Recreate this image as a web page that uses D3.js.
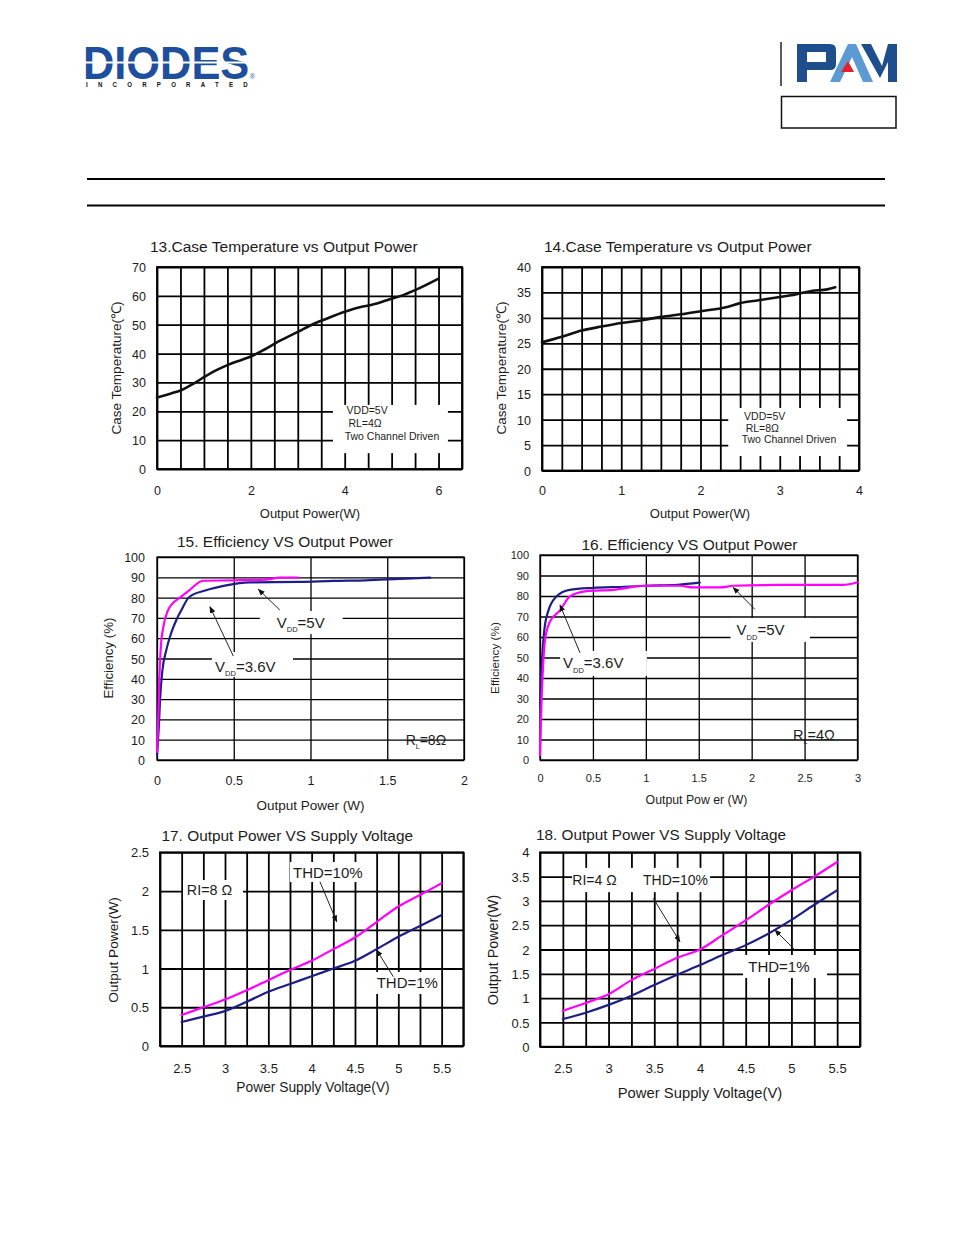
<!DOCTYPE html>
<html><head><meta charset="utf-8">
<script src="https://cdn.jsdelivr.net/npm/d3@7"></script>
<style>html,body{margin:0;padding:0;background:#fff;}svg{display:block;}</style>
</head><body>
<script>
// ---------- DATA ----------
// Chart 13: Case temperature vs output power (RL=4Ω)
const c13Power = [0, 0.3, 0.5, 0.8, 1.0, 1.3, 1.5, 1.8, 2.0, 2.3, 2.6, 3.0, 3.3, 3.6, 4.0, 4.3, 4.6, 4.9, 5.2, 5.5, 6.0];
const c13Temp  = [24.8, 26.2, 27.2, 29.8, 31.8, 34.5, 36, 37.8, 39, 41.5, 44.3, 47.5, 50, 52, 54.5, 56, 57, 58.5, 60, 62, 66];
const c13XTicks = [0, 2, 4, 6];
const c13YTicks = [0, 10, 20, 30, 40, 50, 60, 70];

// Chart 14: Case temperature vs output power (RL=8Ω)
const c14Power = [0, 0.25, 0.5, 0.75, 1.0, 1.25, 1.5, 1.75, 2.0, 2.35, 2.5, 2.75, 3.0, 3.2, 3.4, 3.6, 3.7];
const c14Temp  = [25.2, 26.3, 27.5, 28.3, 29, 29.5, 30.2, 30.7, 31.3, 32.2, 32.9, 33.5, 34.1, 34.6, 35.3, 35.6, 36];
const c14XTicks = [0, 1, 2, 3, 4];
const c14YTicks = [0, 5, 10, 15, 20, 25, 30, 35, 40];

// Chart 15: Efficiency vs output power (RL=8Ω)
const c15MagPower = [0, 0.008, 0.015, 0.025, 0.04, 0.07, 0.1, 0.15, 0.21, 0.3, 0.5, 0.71, 0.8, 0.92];
const c15MagEff   = [4, 20, 40, 56, 65, 73.5, 77, 80, 83.6, 88.3, 88.5, 88.9, 89.8, 89.9];
const c15NavyPower = [0, 0.005, 0.013, 0.02, 0.035, 0.06, 0.09, 0.126, 0.16, 0.21, 0.32, 0.45, 0.6, 0.93, 1.15, 1.36, 1.58, 1.78];
const c15NavyEff   = [2.5, 8, 18, 30, 44, 54, 62, 69, 74, 80.3, 83.6, 86, 87.5, 87.7, 88.2, 88.5, 89.2, 89.8];
const c15XTicks = [0, 0.5, 1, 1.5, 2];
const c15YTicks = [0, 10, 20, 30, 40, 50, 60, 70, 80, 90, 100];

// Chart 16: Efficiency vs output power (RL=4Ω)
const c16NavyPower = [0.003, 0.01, 0.02, 0.04, 0.08, 0.16, 0.28, 0.5, 0.8, 1.0, 1.3, 1.51];
const c16NavyEff   = [26, 40, 50, 63, 73, 80, 83, 84, 84.5, 85, 85.5, 86.5];
const c16MagPower = [0, 0.016, 0.03, 0.047, 0.094, 0.19, 0.28, 0.44, 0.69, 1.0, 1.32, 1.45, 1.7, 1.83, 2.27, 2.86, 3.0];
const c16MagEff   = [2.4, 31, 47, 58.5, 67.5, 73, 79.7, 82.4, 83, 85, 85, 84.2, 84.2, 85, 85.4, 85.4, 86.7];
const c16XTicks = [0, 0.5, 1, 1.5, 2, 2.5, 3];
const c16YTicks = [0, 10, 20, 30, 40, 50, 60, 70, 80, 90, 100];

// Chart 17: Output power vs supply voltage (RL=8Ω)
const c17Volt = [2.5, 2.75, 3, 3.25, 3.5, 3.75, 4, 4.25, 4.5, 4.75, 5, 5.25, 5.5];
const c17Thd10 = [0.4, 0.5, 0.6, 0.72, 0.85, 0.98, 1.1, 1.25, 1.4, 1.6, 1.8, 1.95, 2.1];
const c17Thd1  = [0.31, 0.38, 0.45, 0.57, 0.7, 0.8, 0.9, 1.0, 1.1, 1.25, 1.41, 1.55, 1.69];
const c17XTicks = [2.5, 3, 3.5, 4, 4.5, 5, 5.5];
const c17YTicks = [0, 0.5, 1, 1.5, 2, 2.5];

// Chart 18: Output power vs supply voltage (RL=4Ω)
const c18Volt = [2.5, 2.75, 3, 3.25, 3.5, 3.75, 4, 4.25, 4.5, 4.75, 5, 5.25, 5.5];
const c18Thd10 = [0.74, 0.9, 1.08, 1.37, 1.6, 1.83, 2.0, 2.3, 2.6, 2.92, 3.22, 3.5, 3.8];
const c18Thd1  = [0.57, 0.7, 0.86, 1.05, 1.27, 1.48, 1.68, 1.89, 2.09, 2.33, 2.61, 2.92, 3.22];
const c18XTicks = [2.5, 3, 3.5, 4, 4.5, 5, 5.5];
const c18YTicks = [0, 0.5, 1, 1.5, 2, 2.5, 3, 3.5, 4];

// ---------- DRAWING ----------
const FONT = "'Liberation Sans', Arial, sans-serif";
const NAVY = "#1e1e86", MAG = "#ff00ff", TXT = "#1c1c1c";
const svg = d3.select("body").append("svg").attr("width", 954).attr("height", 1235)
  .style("font-family", FONT);
svg.append("rect").attr("width", 954).attr("height", 1235).attr("fill", "#fff");

const defs = svg.append("defs");
defs.append("marker").attr("id", "ah").attr("viewBox", "0 0 10 10").attr("refX", 9).attr("refY", 5)
  .attr("markerWidth", 7).attr("markerHeight", 7).attr("orient", "auto-start-reverse")
  .attr("markerUnits", "userSpaceOnUse")
  .append("path").attr("d", "M0,1 L10,5 L0,9 Z").attr("fill", "#111");

// ---- header ----
const hdr = svg.append("g");
const sx = 0.943;
const logo = hdr.append("text").attr("transform", `translate(83,79) scale(${sx},1)`)
  .attr("font-weight", "bold").attr("fill", "#1d4f9c");
logo.append("tspan").attr("x", 0).attr("y", 0).attr("font-size", 46).text("DIODES");
logo.append("tspan").attr("x", 177).attr("y", 0).attr("font-size", 7).attr("font-weight", "normal").text("®");
logo.append("tspan").attr("x", 3 / sx).attr("y", 8.5).attr("font-size", 6.5).attr("fill", "#111")
  .attr("letter-spacing", 10.85).text("INCORPORATED");
hdr.append("rect").attr("x", 83).attr("y", 61.5).attr("width", 166).attr("height", 2).attr("fill", "#fff");
// PAM logo
hdr.append("line").attr("x1", 781).attr("x2", 781).attr("y1", 42).attr("y2", 86).attr("stroke", "#222").attr("stroke-width", 1.5);
hdr.append("path").attr("fill", "#1f4e8c")
  .attr("d", "M797,44 H830 Q836,44 836,50 V64 Q836,70 830,70 H807 V82 H797 Z M807,52 V62 H826 V52 Z")
  .attr("fill-rule", "evenodd");
hdr.append("path").attr("fill", "#5b9ad3").attr("d", "M830,82 L848,44 L856,44 L873,82 L863,82 L852,57 L840,82 Z");
hdr.append("path").attr("fill", "#e3202b").attr("d", "M841,72 L848,61 L854,72 Z");
hdr.append("path").attr("fill", "#1f4e8c").attr("d", "M861,44 L871,44 L882,66 L888,44 L897,44 L897,82 L888,82 L888,62 L880,78 Z");
hdr.append("rect").attr("x", 781.5).attr("y", 96.5).attr("width", 114.5).attr("height", 31.5)
  .attr("fill", "none").attr("stroke", "#111").attr("stroke-width", 1.5);
hdr.append("line").attr("x1", 87).attr("x2", 885).attr("y1", 179).attr("y2", 179).attr("stroke", "#000").attr("stroke-width", 2);
hdr.append("line").attr("x1", 87).attr("x2", 885).attr("y1", 205.5).attr("y2", 205.5).attr("stroke", "#000").attr("stroke-width", 2);

function gridVals(d0, d1, step) {
  const n = Math.round((d1 - d0) / step);
  return d3.range(n + 1).map(i => +(d0 + i * step).toFixed(6));
}

function drawChart(c) {
  const g = svg.append("g");
  const [L, R, T, B] = c.box;
  const x = d3.scaleLinear().domain(c.xDomain).range([L, R]);
  const y = d3.scaleLinear().domain(c.yDomain).range([B, T]);
  const w = R - L, h = B - T;

  // grid
  g.append("g").attr("transform", `translate(0,${B})`)
    .call(d3.axisBottom(x).tickValues(gridVals(c.xDomain[0], c.xDomain[1], c.xStep)).tickSize(-h).tickFormat(""))
    .call(s => s.select(".domain").remove())
    .selectAll("line").attr("stroke", "#000").attr("stroke-width", c.gridW);
  g.append("g").attr("transform", `translate(${L},0)`)
    .call(d3.axisLeft(y).tickValues(gridVals(c.yDomain[0], c.yDomain[1], c.yStep)).tickSize(-w).tickFormat(""))
    .call(s => s.select(".domain").remove())
    .selectAll("line").attr("stroke", "#000").attr("stroke-width", c.gridW);

  // white label boxes over the grid
  (c.boxes || []).forEach(b => {
    g.append("rect").attr("x", x(b[0])).attr("y", y(b[3])).attr("width", x(b[1]) - x(b[0]))
      .attr("height", y(b[2]) - y(b[3])).attr("fill", "#fff");
  });

  // frame
  g.append("rect").attr("x", L).attr("y", T).attr("width", w).attr("height", h)
    .attr("fill", "none").attr("stroke", "#000").attr("stroke-width", c.gridW);

  // tick labels
  const xa = g.append("g").attr("transform", `translate(0,${c.xLabelY})`)
    .call(d3.axisBottom(x).tickValues(c.xTicks).tickSize(0).tickPadding(0).tickFormat(d3.format("")));
  xa.select(".domain").remove();
  xa.selectAll("text").attr("y", 0).attr("dy", "0.36em").attr("fill", TXT)
    .attr("font-size", c.tickSize).attr("font-family", FONT);
  const ya = g.append("g").attr("transform", `translate(${c.yLabelX},0)`)
    .call(d3.axisLeft(y).tickValues(c.yTicks).tickSize(0).tickPadding(0).tickFormat(d3.format("")));
  ya.select(".domain").remove();
  ya.selectAll("text").attr("x", 0).attr("dy", "0.36em").attr("fill", TXT)
    .attr("font-size", c.tickSize).attr("font-family", FONT);

  // series
  c.series.forEach(s => {
    g.append("path").datum(d3.zip(s.x, s.y))
      .attr("d", d3.line().x(d => x(d[0])).y(d => y(d[1])).curve(d3.curveMonotoneX))
      .attr("fill", "none").attr("stroke", s.color).attr("stroke-width", s.width)
      .attr("stroke-linejoin", "round").attr("stroke-linecap", "round");
  });

  // arrows
  (c.arrows || []).forEach(a => {
    g.append("line").attr("x1", x(a[0])).attr("y1", y(a[1])).attr("x2", x(a[2])).attr("y2", y(a[3]))
      .attr("stroke", "#222").attr("stroke-width", 1).attr("marker-end", "url(#ah)");
  });

  // labels
  (c.labels || []).forEach(lb => {
    const t = g.append("text").attr("x", x(lb.x)).attr("y", y(lb.y)).attr("dy", "0.36em")
      .attr("font-size", lb.size).attr("fill", TXT);
    if (lb.sub) {
      t.append("tspan").text(lb.main);
      t.append("tspan").attr("font-size", lb.size * 0.5).attr("dy", lb.size * 0.28).text(lb.sub);
      t.append("tspan").attr("dy", -lb.size * 0.28).text(lb.rest);
    } else {
      t.text(lb.text);
    }
  });

  // title & axis titles
  g.append("text").attr("x", c.title[1]).attr("y", c.title[2]).attr("dy", "0.36em")
    .attr("font-size", c.title[3]).attr("fill", TXT).text(c.title[0]);
  g.append("text").attr("x", c.xTitle[1]).attr("y", c.xTitle[2]).attr("dy", "0.36em").attr("text-anchor", "middle")
    .attr("font-size", c.xTitle[3]).attr("fill", TXT).text(c.xTitle[0]);
  g.append("text").attr("transform", `translate(${c.yTitle[1]},${c.yTitle[2]}) rotate(-90)`).attr("dy", "0.36em")
    .attr("text-anchor", "middle").attr("font-size", c.yTitle[3]).attr("fill", TXT).text(c.yTitle[0]);
}

// ---- Chart 13 ----
drawChart({
  box: [157, 462, 267, 469], xDomain: [0, 6.5], yDomain: [0, 70], xStep: 0.5, yStep: 10, gridW: 1.8,
  xTicks: c13XTicks, yTicks: c13YTicks, xLabelY: 490, yLabelX: 146, tickSize: 12.5,
  series: [{ x: c13Power, y: c13Temp, color: "#111", width: 2.6 }],
  boxes: [[3.75, 6.2, 5.5, 22.2]],
  labels: [{ x: 4.04, y: 20.2, size: 10.5, text: "VDD=5V" }, { x: 4.08, y: 16.0, size: 10.5, text: "RL=4Ω" },
           { x: 4.0, y: 11.4, size: 10.5, text: "Two Channel Driven" }],
  title: ["13.Case Temperature vs Output Power", 150, 246.5, 15.5],
  xTitle: ["Output Power(W)", 310, 513, 13], yTitle: ["Case Temperature(℃)", 116.5, 368, 13.5]
});

// ---- Chart 14 ----
drawChart({
  box: [542, 859, 267, 470.5], xDomain: [0, 4], yDomain: [0, 40], xStep: 0.25, yStep: 5, gridW: 1.8,
  xTicks: c14XTicks, yTicks: c14YTicks, xLabelY: 490, yLabelX: 531, tickSize: 12.5,
  series: [{ x: c14Power, y: c14Temp, color: "#111", width: 2.6 }],
  boxes: [[2.35, 3.85, 2.85, 12.3]],
  labels: [{ x: 2.55, y: 10.7, size: 10.5, text: "VDD=5V" }, { x: 2.57, y: 8.4, size: 10.5, text: "RL=8Ω" },
           { x: 2.52, y: 6.1, size: 10.5, text: "Two Channel Driven" }],
  title: ["14.Case Temperature vs Output Power", 544, 246.5, 15.5],
  xTitle: ["Output Power(W)", 700, 513, 13], yTitle: ["Case Temperature(℃)", 501.5, 368, 13.5]
});

// ---- Chart 15 ----
drawChart({
  box: [157, 464, 557, 760], xDomain: [0, 2], yDomain: [0, 100], xStep: 0.5, yStep: 10, gridW: 1.3,
  xTicks: c15XTicks, yTicks: c15YTicks, xLabelY: 780, yLabelX: 145, tickSize: 12.5,
  series: [{ x: c15NavyPower, y: c15NavyEff, color: NAVY, width: 2.2 },
           { x: c15MagPower, y: c15MagEff, color: MAG, width: 2.2 }],
  boxes: [[0.67, 1.21, 62, 73.4], [0.358, 0.886, 40.9, 53.2]],
  arrows: [[0.80, 73.9, 0.66, 84.1], [0.497, 51.2, 0.345, 75.5]],
  labels: [{ x: 0.78, y: 67.6, size: 15, main: "V", sub: "DD", rest: "=5V" },
           { x: 0.378, y: 46, size: 15, main: "V", sub: "DD", rest: "=3.6V" },
           { x: 1.62, y: 9.9, size: 14, main: "R", sub: "L", rest: "=8Ω" }],
  title: ["15. Efficiency VS Output Power", 177, 541.5, 15.5],
  xTitle: ["Output Power (W)", 310.5, 805, 13.5], yTitle: ["Efficiency (%)", 108, 658, 13.3]
});

// ---- Chart 16 ----
drawChart({
  box: [540, 857.5, 555, 760], xDomain: [0, 3], yDomain: [0, 100], xStep: 0.5, yStep: 10, gridW: 1.3,
  xTicks: c16XTicks, yTicks: c16YTicks, xLabelY: 778, yLabelX: 529, tickSize: 11,
  series: [{ x: c16NavyPower, y: c16NavyEff, color: NAVY, width: 2.2 },
           { x: c16MagPower, y: c16MagEff, color: MAG, width: 2.2 }],
  boxes: [[1.80, 2.55, 57.6, 69.3], [0.19, 1.01, 41, 53.2]],
  arrows: [[2.03, 73.5, 1.825, 84.2], [0.378, 52.3, 0.189, 75.6]],
  labels: [{ x: 1.857, y: 63.4, size: 15, main: "V", sub: "DD", rest: "=5V" },
           { x: 0.217, y: 47.3, size: 15, main: "V", sub: "DD", rest: "=3.6V" },
           { x: 2.39, y: 12.2, size: 14.5, main: "R", sub: "L", rest: "=4Ω" }],
  title: ["16. Efficiency VS Output Power", 581.5, 544, 15.5],
  xTitle: ["Output Pow er (W)", 696.5, 800, 12.3], yTitle: ["Efficiency (%)", 495, 658, 11.8]
});

// ---- Chart 17 ----
drawChart({
  box: [160, 463.3, 852.3, 1046], xDomain: [2.25, 5.75], yDomain: [0, 2.5], xStep: 0.25, yStep: 0.5, gridW: 1.8,
  xTicks: c17XTicks, yTicks: c17YTicks, xLabelY: 1068, yLabelX: 149, tickSize: 13,
  series: [{ x: c17Volt, y: c17Thd1, color: NAVY, width: 2.2 },
           { x: c17Volt, y: c17Thd10, color: MAG, width: 2.2 }],
  boxes: [[2.515, 3.208, 1.884, 2.142], [3.75, 4.615, 2.117, 2.375], [4.708, 5.481, 0.671, 0.955]],
  arrows: [[4.096, 2.12, 4.289, 1.604], [4.942, 0.894, 4.75, 1.239]],
  labels: [{ x: 2.56, y: 2.014, size: 14.3, text: "RI=8 Ω" }, { x: 3.785, y: 2.243, size: 15, text: "THD=10%" },
           { x: 4.75, y: 0.813, size: 15, text: "THD=1%" }],
  title: ["17. Output Power VS Supply Voltage", 161.5, 835, 15.4],
  xTitle: ["Power Supply Voltage(V)", 313, 1087, 13.8], yTitle: ["Output Power(W)", 113.5, 950, 13.7]
});

// ---- Chart 18 ----
drawChart({
  box: [540, 860, 852.3, 1046.7], xDomain: [2.25, 5.75], yDomain: [0, 4], xStep: 0.25, yStep: 0.5, gridW: 1.8,
  xTicks: c18XTicks, yTicks: c18YTicks, xLabelY: 1068, yLabelX: 529.5, tickSize: 13,
  series: [{ x: c18Volt, y: c18Thd1, color: NAVY, width: 2.2 },
           { x: c18Volt, y: c18Thd10, color: MAG, width: 2.2 }],
  boxes: [[2.6, 4.11, 3.18, 3.68], [4.47, 5.39, 1.414, 1.887]],
  arrows: [[3.489, 3.053, 3.78, 2.16], [5.039, 1.99, 4.82, 2.40]],
  labels: [{ x: 2.604, y: 3.43, size: 14, text: "RI=4 Ω" }, { x: 3.377, y: 3.43, size: 14, text: "THD=10%" },
           { x: 4.528, y: 1.646, size: 15, text: "THD=1%" }],
  title: ["18. Output Power VS Supply Voltage", 536, 834, 15.3],
  xTitle: ["Power Supply Voltage(V)", 700, 1092.5, 14.8], yTitle: ["Output Power(W)", 493, 950, 14.3]
});
</script>
</body></html>
